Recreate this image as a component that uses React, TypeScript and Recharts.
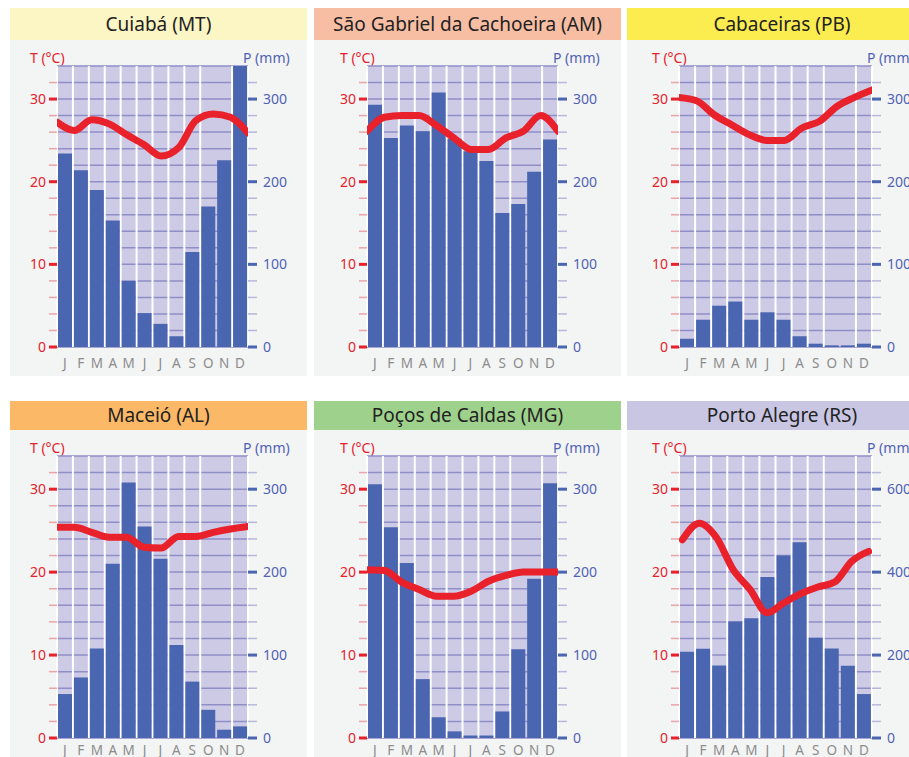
import React from 'react';
import { ComposedChart, Bar, Line, XAxis, YAxis, CartesianGrid } from 'recharts';

const months = ['J', 'F', 'M', 'A', 'M', 'J', 'J', 'A', 'S', 'O', 'N', 'D'];

// precipitation (mm) and mean temperature (°C) per month
const cuiabaPrecip = [234, 214, 190, 153, 80, 41, 28, 13, 115, 170, 226, 340];
const cuiabaTemp = [27.2, 26.2, 27.5, 27.0, 25.7, 24.5, 23.1, 24.1, 27.4, 28.2, 27.8, 25.9];

const saoGabrielPrecip = [293, 253, 268, 261, 308, 252, 237, 225, 162, 173, 212, 251];
const saoGabrielTemp = [26.1, 27.8, 28.0, 28.0, 26.8, 25.3, 23.9, 23.9, 25.3, 26.1, 28.0, 26.1];

const cabaceirasPrecip = [10, 33, 50, 55, 33, 42, 33, 13, 4, 2, 2, 4];
const cabaceirasTemp = [30.2, 29.8, 28.1, 26.9, 25.7, 25.0, 25.0, 26.5, 27.3, 29.1, 30.2, 31.1];

const maceioPrecip = [53, 73, 108, 210, 308, 255, 216, 112, 68, 34, 10, 14];
const maceioTemp = [25.4, 25.4, 24.8, 24.2, 24.2, 23.0, 22.9, 24.3, 24.3, 24.8, 25.2, 25.5];

const pocosPrecip = [306, 254, 211, 71, 25, 8, 3, 3, 32, 107, 192, 307];
const pocosTemp = [20.3, 20.2, 18.8, 17.9, 17.1, 17.1, 17.7, 18.9, 19.6, 20.0, 20.0, 20.0];

const portoAlegrePrecip = [208, 215, 175, 281, 289, 388, 440, 472, 242, 216, 174, 106];
const portoAlegreTemp = [23.9, 25.9, 24.2, 20.3, 17.9, 15.1, 16.3, 17.4, 18.2, 18.8, 21.3, 22.5];

const tempTicks = [0, 2, 4, 6, 8, 10, 12, 14, 16, 18, 20, 22, 24, 26, 28, 30, 32];
const precipTicks = [0, 20, 40, 60, 80, 100, 120, 140, 160, 180, 200, 220, 240, 260, 280, 300, 320];
const precipTicksWide = [0, 40, 80, 120, 160, 200, 240, 280, 320, 360, 400, 440, 480, 520, 560, 600, 640];
const monthBounds = [1, 2, 3, 4, 5, 6, 7, 8, 9, 10, 11];

const RED = '#e8212b';
const BLUE = '#4a66b0';
const FONT = '"Noto Sans", "DejaVu Sans", sans-serif';

const cols = [
  { left: 10, width: 297, plotLeft: 57, plotRight: 248 },
  { left: 314, width: 307, plotLeft: 367, plotRight: 558 },
  { left: 627, width: 310, plotLeft: 679, plotRight: 872 },
];
const rows = [
  { top: 8, header: 32, plotTop: 66, plotBottom: 347, bottom: 376, monthDy: 21 },
  { top: 401, header: 29, plotTop: 456, plotBottom: 738, bottom: 769, monthDy: 17 },
];

const panels = [
  { title: 'Cuiabá (MT)', bg: '#fcf5c4', precip: cuiabaPrecip, temp: cuiabaTemp, col: 0, row: 0 },
  { title: 'São Gabriel da Cachoeira (AM)', bg: '#f8bea4', precip: saoGabrielPrecip, temp: saoGabrielTemp, col: 1, row: 0 },
  { title: 'Cabaceiras (PB)', bg: '#fbec50', precip: cabaceirasPrecip, temp: cabaceirasTemp, col: 2, row: 0 },
  { title: 'Maceió (AL)', bg: '#fbb866', precip: maceioPrecip, temp: maceioTemp, col: 0, row: 1 },
  { title: 'Poços de Caldas (MG)', bg: '#9ed18c', precip: pocosPrecip, temp: pocosTemp, col: 1, row: 1 },
  { title: 'Porto Alegre (RS)', bg: '#c9c6e4', precip: portoAlegrePrecip, temp: portoAlegreTemp, col: 2, row: 1, wide: true },
];

function TempTick(props: any) {
  const { x, y, payload } = props;
  const v = payload.value;
  if (v % 10 !== 0) {
    return <line x1={x - 8} x2={x} y1={y} y2={y} stroke="#eba4a8" strokeWidth={1.5} />;
  }
  return (
    <g>
      <rect x={x - 8} y={y - 1.5} width={8} height={3} fill={RED} />
      <text x={x - 11} y={y} dy="0.36em" textAnchor="end" fill={RED} fontSize={14} fontFamily={FONT}>
        {v}
      </text>
    </g>
  );
}

function makePrecipTick(major: number) {
  return (props: any) => {
    const { x, y, payload } = props;
    const v = payload.value;
    if (v % major !== 0) {
      return <line x1={x} x2={x + 9} y1={y} y2={y} stroke="#b9b7de" strokeWidth={1.5} />;
    }
    return (
      <g>
        <rect x={x} y={y - 1.5} width={9} height={3} fill={BLUE} />
        <text x={x + 15} y={y} dy="0.36em" textAnchor="start" fill="#5062b4" fontSize={14} fontFamily={FONT}>
          {v}
        </text>
      </g>
    );
  };
}

function makeMonthTick(dy: number) {
  return (props: any) => {
    const { x, y, payload } = props;
    return (
      <text x={x} y={y + dy} textAnchor="middle" fill="#8c8c8c" fontSize={13.5} fontFamily={FONT}>
        {payload.value}
      </text>
    );
  };
}

function Climograph({ title, bg, precip, temp, col, row, wide }: any) {
  const c = cols[col];
  const r = rows[row];
  const data = months.map((m, i) => ({ m, i, p: precip[i], t: temp[i] }));
  const chartTop = r.top + r.header;
  const chartHeight = r.bottom - chartTop;
  const precipTick = makePrecipTick(wide ? 200 : 100);
  const monthTick = makeMonthTick(r.monthDy);

  return (
    <>
      <div
        style={{
          position: 'absolute',
          left: c.left,
          top: r.top,
          width: c.width,
          height: r.header,
          background: bg,
          color: '#222',
          fontFamily: FONT,
          fontSize: 19,
          lineHeight: `${r.header}px`,
          textAlign: 'center',
          whiteSpace: 'nowrap',
        }}
      >
        {title}
      </div>
      <div
        style={{ position: 'absolute', left: c.left, top: chartTop, width: c.width, height: chartHeight, background: '#f3f4f4' }}
      />
      <div
        style={{ position: 'absolute', left: c.plotLeft - 27, top: r.plotTop - 15, color: RED, fontFamily: FONT, fontSize: 14, lineHeight: '14px', whiteSpace: 'nowrap' }}
      >
        T (°C)
      </div>
      <div
        style={{ position: 'absolute', left: c.plotRight - 5, top: r.plotTop - 15, color: '#5062b4', fontFamily: FONT, fontSize: 14, lineHeight: '14px', whiteSpace: 'nowrap' }}
      >
        P (mm)
      </div>
      <div style={{ position: 'absolute', left: c.left, top: chartTop }}>
        <ComposedChart
          width={c.width}
          height={chartHeight}
          data={data}
          margin={{ top: r.plotTop - chartTop, right: 0, bottom: 0, left: 0 }}
          barCategoryGap={1}
        >
          <CartesianGrid xAxisId="g" yAxisId="t" fill="#cdcae6" fillOpacity={1} stroke="#8f8ec7" strokeWidth={1.5} vertical={false} />
          <CartesianGrid xAxisId="g" yAxisId="t" stroke="#ffffff" strokeWidth={2} horizontal={false} />
          <XAxis
            xAxisId="m"
            dataKey="m"
            height={r.bottom - r.plotBottom}
            interval={0}
            axisLine={false}
            tickLine={false}
            tickSize={0}
            tickMargin={0}
            tick={monthTick}
          />
          <XAxis xAxisId="i" dataKey="i" type="number" domain={wide ? [-0.2, 11.2] : [0, 11]} allowDataOverflow height={0} hide />
          <XAxis xAxisId="g" dataKey="i" type="number" domain={[0, 12]} ticks={monthBounds} allowDataOverflow height={0} hide />
          <YAxis
            yAxisId="t"
            orientation="left"
            domain={[0, 34]}
            ticks={tempTicks}
            interval={0}
            width={c.plotLeft - c.left}
            axisLine={false}
            tickLine={false}
            tickSize={0}
            tickMargin={0}
            tick={(p: any) => <TempTick {...p} />}
          />
          <YAxis
            yAxisId="p"
            orientation="right"
            domain={wide ? [0, 680] : [0, 340]}
            ticks={wide ? precipTicksWide : precipTicks}
            interval={0}
            allowDataOverflow
            width={c.left + c.width - c.plotRight}
            axisLine={false}
            tickLine={false}
            tickSize={0}
            tickMargin={0}
            tick={precipTick}
          />
          <Bar xAxisId="m" yAxisId="p" dataKey="p" fill={BLUE} isAnimationActive={false} />
          <Line
            xAxisId="i"
            yAxisId="t"
            dataKey="t"
            type="monotone"
            stroke={RED}
            strokeWidth={7}
            strokeLinecap="round"
            strokeLinejoin="round"
            dot={false}
            activeDot={false}
            isAnimationActive={false}
          />
        </ComposedChart>
      </div>
    </>
  );
}

export default function App() {
  return (
    <div
      style={{
        position: 'fixed',
        left: 0,
        top: 0,
        width: 909,
        height: 757,
        overflow: 'hidden',
        background: '#ffffff',
      }}
    >
      {panels.map((p) => (
        <Climograph key={p.title} {...p} />
      ))}
    </div>
  );
}
